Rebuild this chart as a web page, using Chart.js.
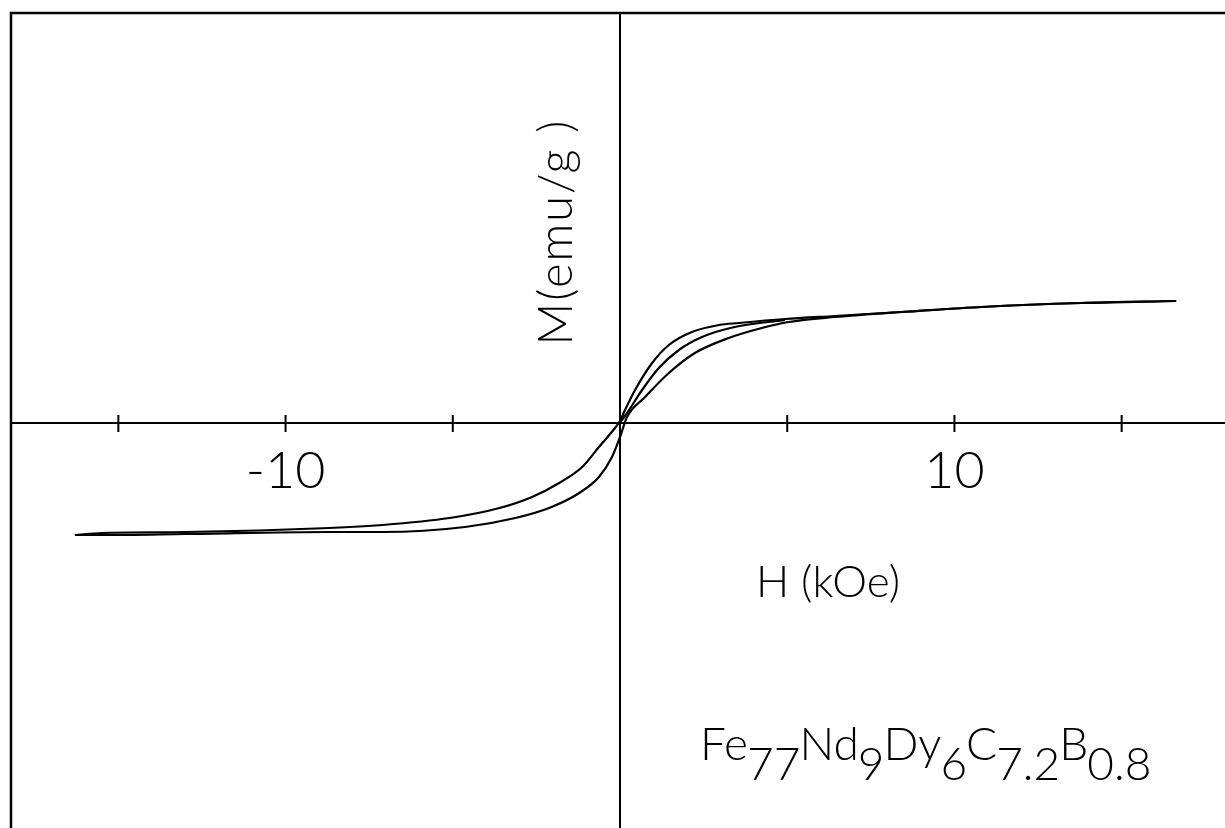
<!DOCTYPE html>
<html lang="en">
<head>
  <meta charset="UTF-8">
  <title>Fe77Nd9Dy6C7.2B0.8 - M(H)</title>
  <script src="https://cdn.jsdelivr.net/npm/chart.js"></script>
  <style>
    body { margin: 0; background: #fff; }
    canvas { display: block; }
  </style>
</head>
<body>
  <canvas id="loopChart" width="1225" height="828"></canvas>

  <script>
    // branch coming down from +H (upper one)
    const hDown = [-16.3, -15.5, -13.0, -8.7, -7.1, -5.1, -3.6, -2.63, -1.82, -1.13, -0.63, -0.15, 0, 0.15, 0.45, 0.96, 1.46, 2.15, 2.96, 3.55, 4.93, 6.42, 8.42, 10.81, 13.79, 16.63];
    const mDown = [-112, -110, -109, -105, -102, -95, -85, -74, -60, -44, -24, -5, 2, 13, 33, 60, 78, 91, 98, 100, 104, 107, 111, 116, 120, 122];

    // branch going up from -H (lower one)
    const hUp = [-16.3, -15.5, -13.0, -8.7, -7.1, -4.63, -3.13, -2.12, -1.22, -0.63, -0.24, 0, 0.21, 0.75, 1.46, 2.24, 3.25, 4.24, 5.04, 6.42, 8.42, 10.81, 13.79, 16.63];
    const mUp = [-112, -112, -111, -109, -109, -104, -95, -85, -70, -54, -34, -14, 6, 26, 50, 70, 85, 95, 101, 106, 111, 116, 120, 122];

    // initial magnetization curve
    const hInit = [0, 0.27, 0.66, 1.16, 1.76, 2.45, 3.43, 4.93];
    const mInit = [0, 13, 33, 55, 73, 86, 96, 103];

    const tickValues = [-15, -10, -5, 5, 10, 15];
    const labelValues = [-10, 10];
    const labelTexts = ['-10', '10'];

    const formulaParts = ['Fe', '77', 'Nd', '9', 'Dy', '6', 'C', '7.2', 'B', '0.8'];

    const FONT = "'Lato', 'Open Sans', 'DejaVu Sans', sans-serif";

    function pts(hs, ms) {
      return hs.map((h, i) => ({ x: h, y: ms[i] }));
    }

    const decor = {
      id: 'decor',
      beforeDatasetsDraw(chart) {
        const { ctx, chartArea, scales } = chart;
        const x0 = scales.x.getPixelForValue(0);
        const y0 = scales.y.getPixelForValue(0);
        ctx.save();
        ctx.strokeStyle = '#000';
        ctx.lineWidth = 2.5;
        ctx.beginPath();
        ctx.moveTo(chartArea.left, chartArea.bottom);
        ctx.lineTo(chartArea.left, chartArea.top);
        ctx.lineTo(chartArea.right, chartArea.top);
        ctx.stroke();

        ctx.lineWidth = 2;
        ctx.beginPath();
        ctx.moveTo(chartArea.left, y0);
        ctx.lineTo(chartArea.right, y0);
        ctx.moveTo(x0, chartArea.top);
        ctx.lineTo(x0, chartArea.bottom);
        tickValues.forEach(v => {
          const px = scales.x.getPixelForValue(v);
          ctx.moveTo(px, y0 - 8);
          ctx.lineTo(px, y0 + 9);
        });
        ctx.stroke();
        ctx.restore();
      },
      afterDraw(chart) {
        const { ctx, scales } = chart;
        const y0 = scales.y.getPixelForValue(0);
        ctx.save();
        ctx.fillStyle = '#000';
        ctx.textAlign = 'center';
        ctx.textBaseline = 'middle';
        ctx.font = '300 52px ' + FONT;
        labelValues.forEach((v, i) => {
          ctx.fillText(labelTexts[i], scales.x.getPixelForValue(v), y0 + 48);
        });

        ctx.font = '300 44px ' + FONT;
        ctx.fillText('H (kOe)', 828, 583);

        ctx.save();
        ctx.translate(557, 232);
        ctx.rotate(-Math.PI / 2);
        ctx.font = '300 47px ' + FONT;
        ctx.letterSpacing = '2px';
        ctx.fillText('M(emu/g )', 0, 0);
        ctx.restore();

        // chemical formula with lowered indices
        ctx.textAlign = 'left';
        ctx.textBaseline = 'alphabetic';
        ctx.font = '300 46px ' + FONT;
        let cx = 700;
        formulaParts.forEach((p, i) => {
          const sub = i % 2 === 1;
          ctx.fillText(p, cx, sub ? 780 : 760);
          cx += ctx.measureText(p).width - 1;
        });
        ctx.restore();
      }
    };

    const lineStyle = {
      borderColor: '#000',
      borderWidth: 2.2,
      pointRadius: 0,
      showLine: true,
      fill: false,
      cubicInterpolationMode: 'monotone'
    };

    new Chart(document.getElementById('loopChart'), {
      type: 'scatter',
      data: {
        datasets: [
          Object.assign({ label: 'descending', data: pts(hDown, mDown) }, lineStyle),
          Object.assign({ label: 'ascending', data: pts(hUp, mUp) }, lineStyle),
          Object.assign({ label: 'initial', data: pts(hInit, mInit) }, lineStyle)
        ]
      },
      options: {
        responsive: false,
        animation: false,
        devicePixelRatio: 1,
        layout: { padding: { left: 11, top: 13, right: 0, bottom: 0 } },
        plugins: {
          legend: { display: false },
          tooltip: { enabled: false }
        },
        scales: {
          x: { type: 'linear', min: -18.21, max: 18.09, display: false },
          y: { type: 'linear', min: -405, max: 410, display: false }
        }
      },
      plugins: [decor]
    });
  </script>
</body>
</html>
